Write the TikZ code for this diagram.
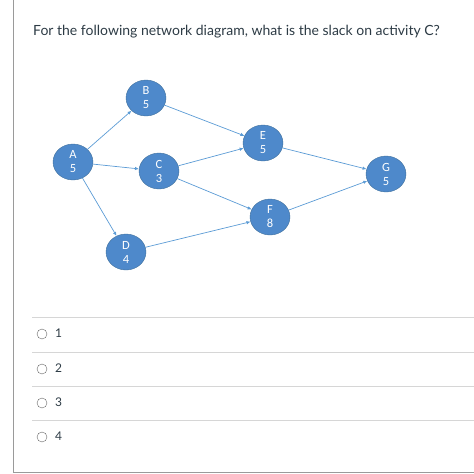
\documentclass[tikz,border=0pt]{standalone}
\usepackage{fontspec}
\setmainfont{Lato}
\newfontfamily\carlito{Carlito}
\usetikzlibrary{shapes.geometric,arrows.meta}
\definecolor{actfill}{HTML}{4E89CB}
\definecolor{actborder}{HTML}{41719C}
\definecolor{linkblue}{HTML}{5B9BD5}
\definecolor{rulegray}{HTML}{D6D6D6}
\definecolor{framegray}{HTML}{9A9A9A}
\definecolor{textgray}{HTML}{2D3B45}
\begin{document}
\begin{tikzpicture}[x=1pt,y=-1pt,
	activity/.style={ellipse,draw=actborder,fill=actfill,text=white,minimum width=40pt,minimum height=36pt,inner sep=0pt,align=center,font=\carlito\fontsize{12.5}{14}\selectfont},
	link/.style={-{Latex[length=4pt,width=3.5pt]},draw=linkblue,line width=0.7pt},
	radio/.style={circle,draw=gray!80!black,minimum size=10pt,inner sep=0pt},
	choice/.style={anchor=west,inner sep=0pt,text=textgray,font=\fontsize{12}{14}\selectfont}]
	\useasboundingbox (0,0) rectangle (474,474);
	\draw[framegray,line width=1pt] (13,0) -- (13,472) -- (474,472);
	\node[anchor=base west,inner sep=0pt,text=textgray,font=\fontsize{14}{17}\selectfont] (question) at (33,35) {For the following network diagram, what is the slack on activity C?};
		\node [activity] (A) at (73,162) {A\\5};
		\node [activity] (B) at (146,98) {B\\5};
		\node [activity] (C) at (159,171) {C\\3};
		\node [activity] (D) at (126,252) {D\\4};
		\node [activity] (E) at (263,143) {E\\5};
		\node [activity] (F) at (270,217) {F\\8};
		\node [activity] (G) at (386,174) {G\\5};
		\draw[link] (A) -- (B);
		\draw[link] (A) -- (C);
		\draw[link] (A) -- (D);
		\draw[link] (B) -- (E);
		\draw[link] (C) -- (E);
		\draw[link] (C) -- (F);
		\draw[link] (D) -- (F);
		\draw[link] (E) -- (G);
		\draw[link] (F) -- (G);
	% answer choices
	\foreach \y/\n in {317/1,352/2,386/3,420/4} {
		\draw[rulegray,line width=1pt] (32,\y) -- (474,\y);
		\node [radio] (r\n) at (42,\y+17) {};
		\node [choice] (c\n) at (55,\y+16) {\n};
	}
\end{tikzpicture}
\end{document}
